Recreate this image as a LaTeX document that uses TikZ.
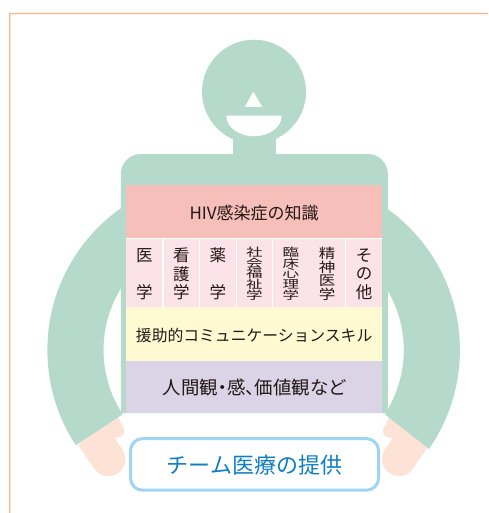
\documentclass[tikz,border=0pt]{standalone}
\usepackage{fontspec}
\setmainfont{Noto Sans CJK JP}
\newfontfamily\propjp[RawFeature=+palt]{Noto Sans CJK JP}
\definecolor{bodygreen}{HTML}{B5DACB}
\definecolor{skin}{HTML}{FDE3D6}
\definecolor{peachline}{HTML}{F7B48E}
\definecolor{salmon}{HTML}{F7BFB9}
\definecolor{palepink}{HTML}{FCE2E9}
\definecolor{paleyellow}{HTML}{FFFAD2}
\definecolor{lilac}{HTML}{DBD3E6}
\definecolor{inkcol}{HTML}{231815}
\definecolor{skyline}{HTML}{A0D4F5}
\definecolor{skytext}{HTML}{0F7FC4}
% one column of the discipline row: vertical squeeze, line pitch, lines
\newcommand{\colstack}[3]{\scalebox{1}[#1]{\parbox{18pt}{\vspace*{3pt}\centering\fontsize{16.5}{#2}\selectfont #3}}}
% single line of text with its baseline a given distance below the band centre
\newcommand{\bandtext}[2]{\raisebox{-#1}[0pt][0pt]{#2}}
% palm and thumb of one hand
\newcommand{\handshape}{%
  \fill[skin] (78,445) -- (94.2,468.4) -- (122.4,449.6) -- (114.6,438) -- (118,437.3) -- (124,429) -- (116,413) -- cycle;
  \fill[skin] (108.3,459) circle[radius=17pt];
  \fill[skin] (118,431) circle[radius=6.3pt];
}
\tikzset{
  x=1pt,y=-1pt,
  band/.style={anchor=north west,inner sep=0pt,outer sep=0pt,minimum width=255.7pt,text=inkcol,align=center},
  discipline/.style={anchor=north west,inner sep=0pt,outer sep=0pt,fill=palepink,text=inkcol,align=center,minimum height=68.2pt},
}
\begin{document}
\begin{tikzpicture}
\useasboundingbox (0,0) rectangle (488,513);
\fill[white] (0,0) rectangle (488,513);
% page frame
\fill[peachline] (9,513) -- (9,12.8) -- (488,12.8) -- (488,14.2) -- (10.4,14.2) -- (10.4,513) -- cycle;
% hands
\handshape
\begin{scope}[xshift=507.3pt,xscale=-1]
  \handshape
\end{scope}
% sleeves
\begin{scope}
  \clip (122,100) -- (0,100) -- (0,495) -- (122,414.7) -- cycle;
  \fill[bodygreen,even odd rule] (221,350) circle[radius=173.6pt] (221,350) circle[radius=117.5pt];
\end{scope}
\begin{scope}
  \clip (385.3,100) -- (488,100) -- (488,495) -- (385.3,414.7) -- cycle;
  \fill[bodygreen,even odd rule] (286.3,350) circle[radius=173.6pt] (286.3,350) circle[radius=117.5pt];
\end{scope}
% head, neck, torso
\fill[bodygreen] (254,91.7) circle[radius=52pt];
\fill[bodygreen] (233,130) rectangle (276,160);
\fill[bodygreen] (120.8,413) [rounded corners=20pt] -- (120.8,154) -- (387.8,154) [sharp corners] -- (387.8,413) -- cycle;
% face
\fill[white] (253.3,91.7) -- (262.3,107) -- (244.7,107) -- cycle;
\fill[white] (226.3,115.7) -- (281.7,115.7) .. controls (281.7,127) and (269.3,136.3) .. (254,136.3) .. controls (238.7,136.3) and (226.3,127) .. (226.3,115.7) -- cycle;
% knowledge and skill bands
\fill[white] (126.3,237) rectangle (382,307);
\node[band,fill=salmon,minimum height=52.4pt] (knowledge) at (126.3,185.2) {\fontsize{17}{20}\selectfont\bandtext{8.3pt}{HIV感染症の知識}};
\node[discipline,minimum width=36pt] (medicine) at (126.3,238.6) {\colstack{1}{37}{医\\学}};
\node[discipline,minimum width=35pt] (nursing) at (163.9,238.6) {\colstack{1}{18.6}{看\\護\\学}};
\node[discipline,minimum width=35.5pt] (pharmacy) at (200,238.6) {\colstack{1}{37}{薬\\学}};
\node[discipline,minimum width=35.5pt] (welfare) at (236.7,238.6) {\colstack{.68}{15.5}{社\\会\\福\\祉\\学}};
\node[discipline,minimum width=35.5pt] (psychology) at (273,238.6) {\colstack{.68}{15.5}{臨\\床\\心\\理\\学}};
\node[discipline,minimum width=35.5pt] (psychiatry) at (309.4,238.6) {\colstack{.82}{16.5}{精\\神\\医\\学}};
\node[discipline,minimum width=36pt] (others) at (346,238.6) {\colstack{1}{18.6}{そ\\の\\他}};
\node[band,fill=paleyellow,minimum height=54pt] (skills) at (126.3,306.8) {\fontsize{15.8}{18}\selectfont\bandtext{8pt}{援助的コミュニケーションスキル}};
\node[band,fill=lilac,minimum height=52pt] (values) at (126.3,360.8) {\propjp\fontsize{18.4}{20}\selectfont\bandtext{7.2pt}{人間観・感、価値観など}};
% outcome box
\node[draw=skyline,line width=3pt,rounded corners=12pt,fill=white,minimum width=248pt,minimum height=51.5pt,inner sep=0pt,text=skytext] (teamcare) at (254.5,464.4) {\fontsize{22}{24}\selectfont\bandtext{9.3pt}{チーム医療の提供}};
\end{tikzpicture}
\end{document}
